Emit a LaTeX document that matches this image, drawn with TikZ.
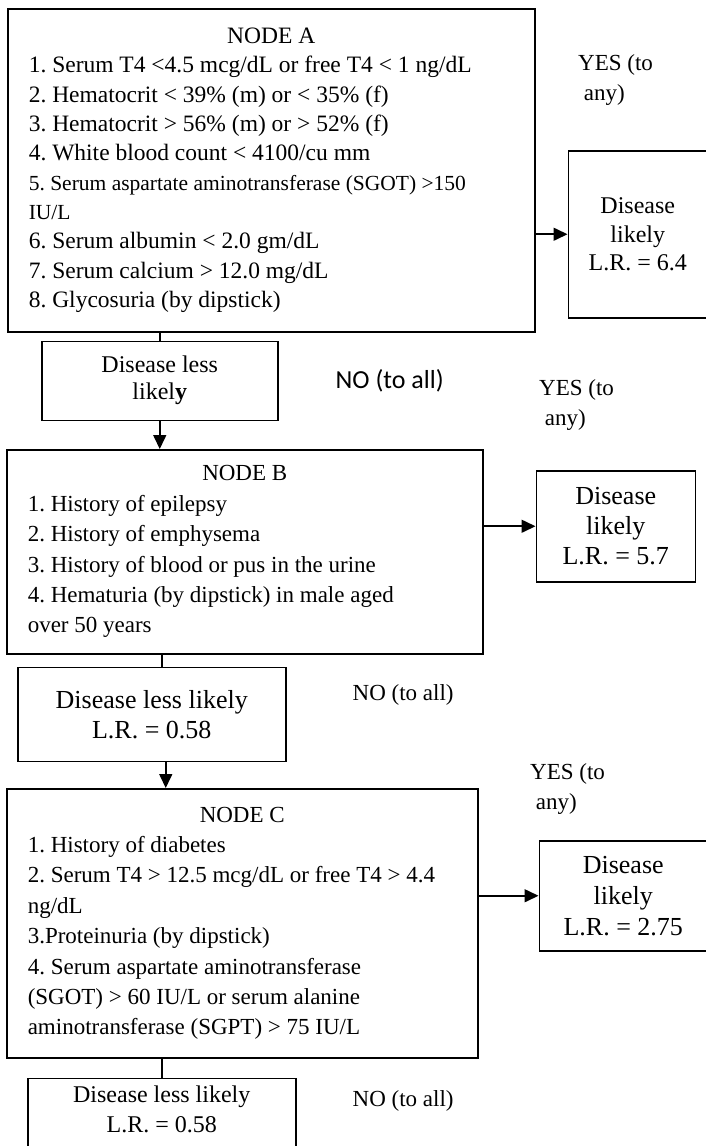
\documentclass[tikz,border=0pt]{standalone}
\usepackage{fontspec}
\setmainfont{Liberation Serif}
\newfontfamily\calibrifont{Carlito}
\usepackage{tikz}
\usetikzlibrary{arrows.meta,positioning}

\begin{document}
\frenchspacing
\begin{tikzpicture}[
  font=\fontsize{23}{30.4}\selectfont,
  node distance=10pt,
  >={Triangle[length=14pt,width=13pt]},
  box/.style={rectangle, draw=black, line width=1.5pt, inner sep=0pt},
  crit/.style={box, align=flush left, inner xsep=21pt},
  result/.style={box, align=center},
  edge/.style={->, line width=1.6pt},
  link/.style={line width=1.6pt},
  ans/.style={align=left, inner sep=0pt, anchor=west},
]

% ---- Page ----
\useasboundingbox (0,0) rectangle (706pt,-1146pt);
\fill[white] (0,0) rectangle (706pt,-1146pt);
\clip (0,0) rectangle (706pt,-1146pt);

% ---- Node A ----
\node[crit, text width=485pt, minimum height=323pt, anchor=north west,
      font=\fontsize{23.5}{29.3}\selectfont] (nodeA) at (7pt,-8pt)
  {\makebox[\linewidth]{NODE A}\\
   1. Serum T4 <4.5 mcg/dL or free T4 < 1 ng/dL\\
   2. Hematocrit < 39\% (m) or < 35\% (f)\\
   3. Hematocrit > 56\% (m) or > 52\% (f)\\
   4. White blood count < 4100/cu mm\\
   {\fontsize{21.5}{29.3}\selectfont 5. Serum aspartate aminotransferase (SGOT) >150\\
   IU/L}\\
   6. Serum albumin < 2.0 gm/dL\\
   7. Serum calcium > 12.0 mg/dL\\
   8. Glycosuria (by dipstick)};
\node[result, minimum width=139pt, minimum height=167pt, right=32pt of nodeA,
      yshift=-64pt, font=\fontsize{24}{28.5}\selectfont] (likelyA)
  {Disease\\likely\\L.R. = 6.4};
\node[result, minimum width=236pt, minimum height=79pt, below=8pt of nodeA,
      xshift=-111.5pt, font=\fontsize{24}{27}\selectfont] (lessA)
  {Disease less\\likel\textbf{y}};
\node[ans, font=\calibrifont\fontsize{26}{30}\selectfont, right=57pt of lessA,
      anchor=west] (noA) {NO (to all)};
\node[ans] (yesA) at (578pt,-80pt) {YES (to\\\ any)};

% ---- Node B ----
\node[crit, text width=434pt, minimum height=204pt, below=28pt of lessA,
      xshift=85pt] (nodeB)
  {\makebox[\linewidth]{NODE B}\\
   1. History of epilepsy\\
   2. History of emphysema\\
   3. History of blood or pus in the urine\\
   4. Hematuria (by dipstick) in male aged\\
   over 50 years};
\node[result, minimum width=159pt, minimum height=111pt, right=52pt of nodeB,
      yshift=25.5pt, font=\fontsize{26}{30}\selectfont] (likelyB)
  {Disease\\likely\\L.R. = 5.7};
\node[result, minimum width=268pt, minimum height=94pt, below=12pt of nodeB,
      xshift=-93pt, font=\fontsize{26}{30}\selectfont] (lessB)
  {Disease less likely\\L.R. = 0.58};
\node[ans, right=66pt of lessB, anchor=west, yshift=19pt] (noB) {NO (to all)};
\node[ans] (yesB) at (539pt,-405pt) {YES (to\\\ any)};

% ---- Node C ----
\node[crit, text width=429pt, minimum height=269pt, below=26pt of lessB,
      xshift=90.5pt] (nodeC)
  {\makebox[\linewidth]{NODE C}\\
   1. History of diabetes\\
   2. Serum T4 > 12.5 mcg/dL or free T4 > 4.4\\
   ng/dL\\
   3.Proteinuria (by dipstick)\\
   4. Serum aspartate aminotransferase\\
   (SGOT) > 60 IU/L or serum alanine\\
   aminotransferase (SGPT) > 75 IU/L};
\node[result, minimum width=168pt, minimum height=110pt, right=60pt of nodeC,
      yshift=27.5pt, font=\fontsize{26}{31}\selectfont] (likelyC)
  {Disease\\likely\\L.R. = 2.75};
\node[result, minimum width=268pt, minimum height=92pt, text depth=30pt,
      below=19pt of nodeC, xshift=-80.5pt, font=\fontsize{24}{30}\selectfont] (lessC)
  {Disease less likely\\L.R. = 0.58};
\node[ans, right=56pt of lessC, anchor=west, yshift=23pt] (noC) {NO (to all)};
\node[ans] (yesC) at (530pt,-789pt) {YES (to\\\ any)};

% ---- Connectors ----
\draw[edge] (nodeA.east |- likelyA.west) -- (likelyA.west);
\draw[link] (lessA.north |- nodeA.south) -- (lessA.north);
\draw[edge] (lessA.south) -- (lessA.south |- nodeB.north);
\draw[edge] (nodeB.east |- likelyB.west) -- (likelyB.west);
\draw[link] ([xshift=10pt]lessB.north |- nodeB.south) -- ([xshift=10pt]lessB.north);
\draw[edge] ([xshift=14pt]lessB.south) -- ([xshift=14pt]lessB.south |- nodeC.north);
\draw[edge] (nodeC.east |- likelyC.west) -- (likelyC.west);
\draw[link] (lessC.north |- nodeC.south) -- (lessC.north);

\end{tikzpicture}
\end{document}
